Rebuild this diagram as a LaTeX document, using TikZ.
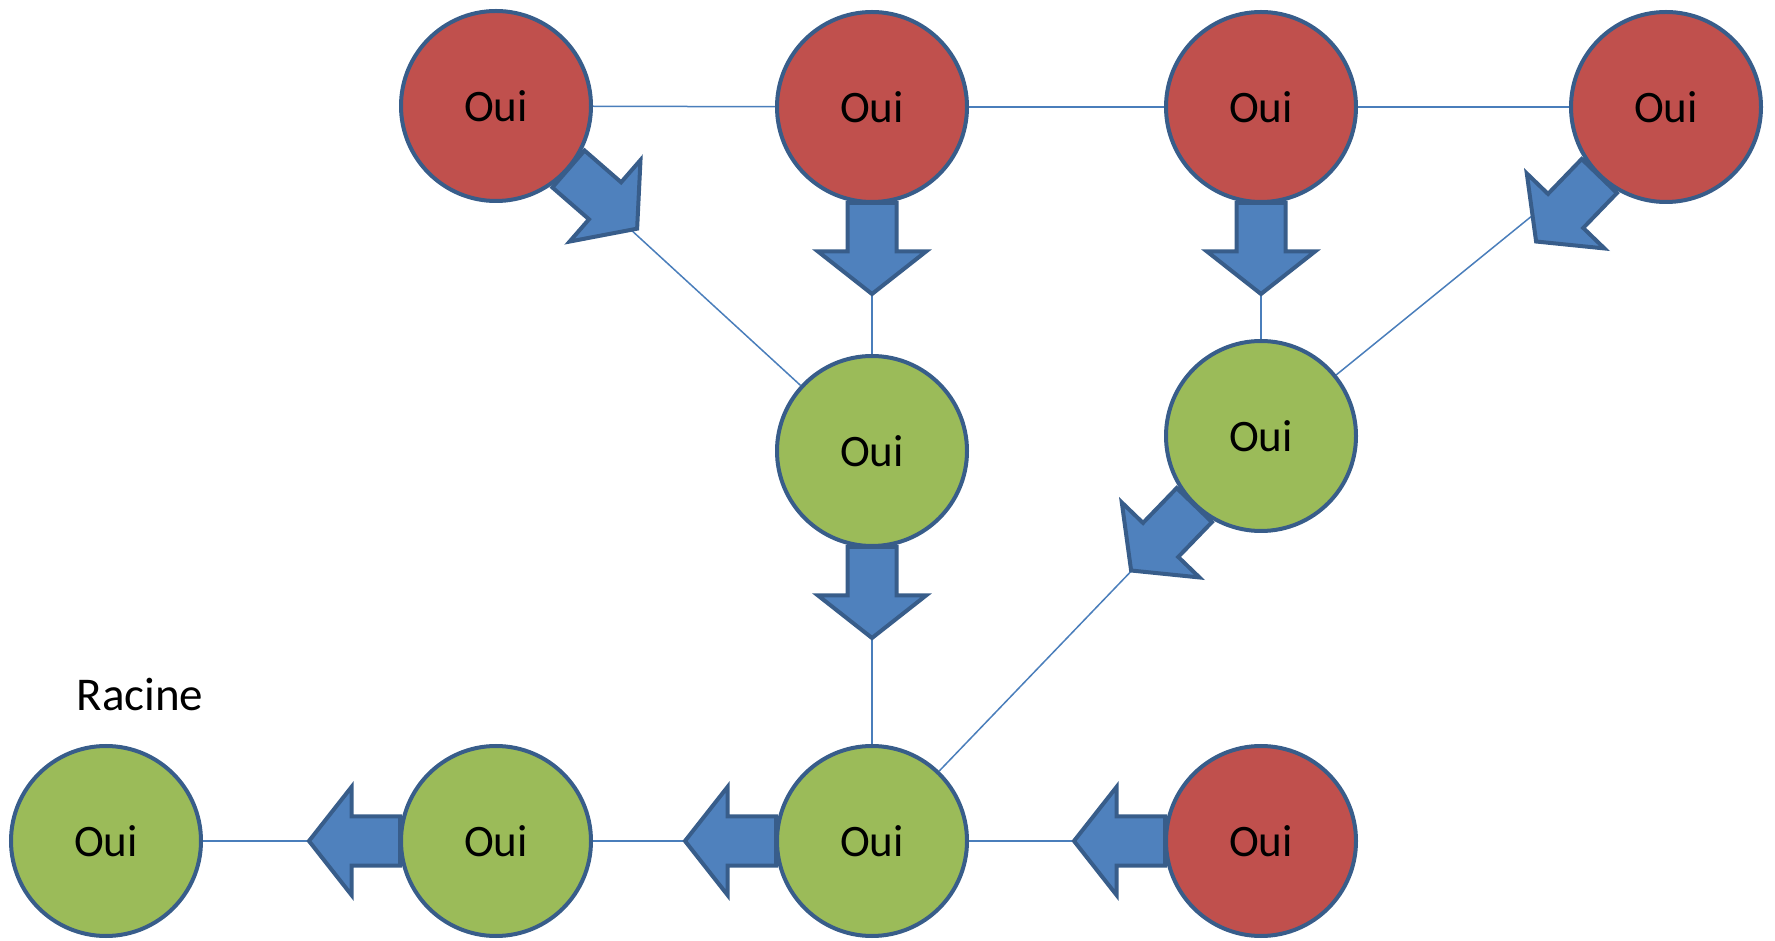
\documentclass[tikz,border=0pt]{standalone}
\usepackage{fontspec}
\setmainfont{Carlito}
\pgfdeclarelayer{background}
\pgfsetlayers{background,main}
\definecolor{redf}{HTML}{C0504D}
\definecolor{greenf}{HTML}{9BBB59}
\definecolor{bluef}{HTML}{4F81BD}
\definecolor{bord}{HTML}{385D8A}
\definecolor{linec}{HTML}{4A7EBB}
\newcommand{\blockarr}[2]{%
  \begin{scope}[shift={(#1.center)}, rotate=#2]
    \draw[barrow] (96,24.5) -- (144.5,24.5) -- (144.5,54) -- (187,0) -- (144.5,-54) -- (144.5,-24.5) -- (96,-24.5) -- cycle;
  \end{scope}}
\begin{document}
\begin{tikzpicture}[x=1pt,y=1pt,
  oui/.style={circle, draw=bord, line width=4pt, minimum size=190pt, inner sep=0pt, font=\fontsize{45}{50}\selectfont},
  rednode/.style={oui, fill=redf},
  greennode/.style={oui, fill=greenf},
  link/.style={draw=linec, line width=1.5pt},
  barrow/.style={fill=bluef, draw=bord, line width=4pt, line join=miter}]
\useasboundingbox (0,0) rectangle (1775,940);
% top row
\node[rednode] (r1) at (496,834) {Oui};
\node[rednode] (r2) at (872,833) {Oui};
\node[rednode] (r3) at (1261,833) {Oui};
\node[rednode] (r4) at (1666,833) {Oui};
% middle
\node[greennode] (g1) at (872,489) {Oui};
\node[greennode] (g2) at (1261,504) {Oui};
% bottom
\node[greennode] (b1) at (106,99) {Oui};
\node[greennode] (b2) at (496,99) {Oui};
\node[greennode] (b3) at (872,99) {Oui};
\node[rednode] (b4) at (1261,99) {Oui};
\node[font=\fontsize{47}{52}\selectfont] (lab) at (140,245) {Racine};
\begin{pgfonlayer}{background}
  \draw[link] (r1) -- (r2);
  \draw[link] (r2) -- (r3);
  \draw[link] (r3) -- (r4);
  \draw[link] (r1) -- (g1);
  \draw[link] (r2) -- (g1);
  \draw[link] (r3) -- (g2);
  \draw[link] (r4) -- (g2);
  \draw[link] (g1) -- (b3);
  \draw[link] (g2) -- (b3);
  \draw[link] (b1) -- (b2);
  \draw[link] (b2) -- (b3);
  \draw[link] (b3) -- (b4);
  \blockarr{r1}{-41}
  \blockarr{r2}{-90}
  \blockarr{r3}{-90}
  \blockarr{r4}{-134}
  \blockarr{g1}{-90}
  \blockarr{g2}{-134}
  \blockarr{b4}{180}
  \blockarr{b3}{180}
  \blockarr{b2}{180}
\end{pgfonlayer}
\end{tikzpicture}
\end{document}
